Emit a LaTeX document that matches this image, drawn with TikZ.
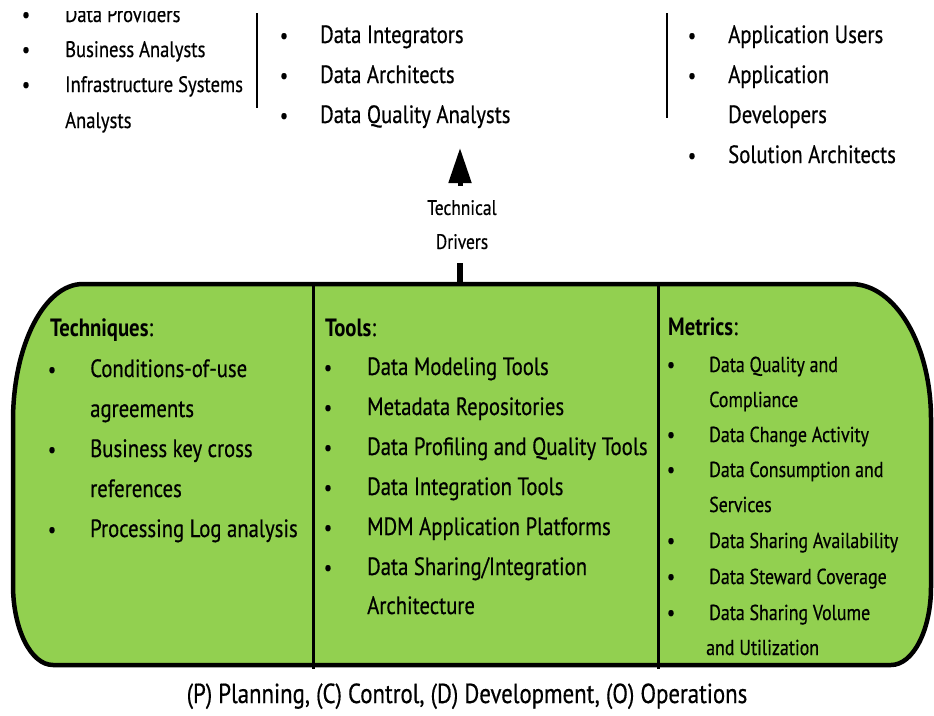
\documentclass[tikz,border=0pt]{standalone}
\usepackage{fontspec}
\setmainfont[FakeStretch=0.83,UprightFeatures={FakeBold=0.5}]{PT Sans}
\usetikzlibrary{arrows.meta}
\definecolor{boxgreen}{RGB}{146,208,80}
\begin{document}
\begin{tikzpicture}[x=1pt,y=-1pt,
  every node/.style={inner sep=0pt},
  txt/.style={anchor=base west, font=\fontsize{25}{30}\selectfont},
  small/.style={anchor=base west, font=\fontsize{22.4}{26}\selectfont},
  metr/.style={anchor=base west, font=\fontsize{21.6}{26}\selectfont},
  bul/.style={anchor=base, font=\fontsize{22}{26}\selectfont},
  sep/.style={line width=2.6pt},
  divider/.style={line width=3pt}]
\clip (0,0) rectangle (934,715);
\fill[white] (0,0) rectangle (934,715);
% ---- top left group (cut off at the top)
\begin{scope}
\clip (0,11) rectangle (250,200);
\node[bul] (b1) at (26,22) {•};
\node[small] (t1) at (65,22) {Data Providers};
\node[bul] (b2) at (26,57) {•};
\node[small] (t2) at (65,57) {Business Analysts};
\node[bul] (b3) at (26,92) {•};
\node[small] (t3) at (65,92) {Infrastructure Systems};
\node[small] (t4) at (65,128) {Analysts};
\end{scope}
\coordinate (s1a) at (257,13);
\coordinate (s1b) at (257,108);
\draw[sep] (s1a) -- (s1b);
% ---- top middle group
\node[bul] (m1b) at (284,43) {•};
\node[txt] (m1) at (320,43) {Data Integrators};
\node[bul] (m2b) at (284,83) {•};
\node[txt] (m2) at (320,83) {Data Architects};
\node[bul] (m3b) at (284,123) {•};
\node[txt] (m3) at (320,123) {Data Quality Analysts};
\coordinate (s2a) at (667,13);
\coordinate (s2b) at (667,118);
\draw[sep] (s2a) -- (s2b);
% ---- top right group
\node[bul] (r1b) at (692,43) {•};
\node[txt] (r1) at (728,43) {Application Users};
\node[bul] (r2b) at (692,83) {•};
\node[txt] (r2) at (728,83) {Application};
\node[txt] (r3) at (728,123) {Developers};
\node[bul] (r4b) at (692,163) {•};
\node[txt] (r4) at (728,163) {Solution Architects};
% ---- green box
\draw[line width=4.5pt, fill=boxgreen, line join=round]
  (83,284) -- (851,284)
  .. controls (895.2,284) and (931,344.4) .. (931,419)
  -- (931,587)
  .. controls (931,630.1) and (913.1,665) .. (891,665)
  -- (53,665)
  .. controls (30.9,665) and (13,629.2) .. (13,585)
  -- (13,421)
  .. controls (13,345.3) and (44.3,284) .. (83,284) -- cycle;
\coordinate (d1a) at (313,284);
\coordinate (d1b) at (313,669);
\coordinate (d2a) at (658,284);
\coordinate (d2b) at (658,669);
\draw[divider] (d1a) -- (d1b);
\draw[divider] (d2a) -- (d2b);
% ---- arrow
\node[align=center, fill=white, font=\fontsize{21}{34}\selectfont,
      minimum height=77pt, text depth=0pt] (drv) at (462,224.5) {Technical\\Drivers};
\coordinate (boxtop) at (460,284);
\coordinate (tip) at (460,148);
\draw[line width=5.5pt] (boxtop) -- (boxtop |- drv.south);
\draw[line width=5pt, -{Triangle[length=35pt,width=22pt]}] (tip |- drv.north) -- (tip);
% ---- techniques
\node[txt] (th) at (50,336) {\textbf{Techniques}:};
\node[bul] at (52,377) {•};
\node[txt] (ta) at (90,377) {Conditions-of-use};
\node[txt] (tb) at (90,417) {agreements};
\node[bul] at (52,457) {•};
\node[txt] (tc) at (90,457) {Business key cross};
\node[txt] (td) at (90,497) {references};
\node[bul] at (52,537) {•};
\node[txt] (te) at (90,537) {Processing Log analysis};
% ---- tools
\node[txt] (oh) at (325,336) {\textbf{Tools}:};
\foreach \y/\t [count=\i] in {375/{Data Modeling Tools},415/{Metadata Repositories},455/{Data Profiling and Quality Tools},495/{Data Integration Tools},535/{MDM Application Platforms},575/{Data Sharing{/}Integration}}{
  \node[bul] at (328,\y) {•};
  \node[txt] (o\i) at (367,\y) {\t};
}
\node[txt] (o7) at (367,614) {Architecture};
% ---- metrics
\node[txt] (mh) at (668,335) {\textbf{Metrics}:};
\node[bul] at (671,372) {•};
\node[metr] (x1) at (709,372) {Data Quality and};
\node[metr] (x2) at (709,407) {Compliance};
\node[bul] at (671,442) {•};
\node[metr] (x3) at (709,442) {Data Change Activity};
\node[bul] at (671,477) {•};
\node[metr] (x4) at (709,477) {Data Consumption and};
\node[metr] (x5) at (709,512) {Services};
\node[bul] at (671,548) {•};
\node[metr] (x6) at (709,548) {Data Sharing Availability};
\node[bul] at (671,584) {•};
\node[metr] (x7) at (709,584) {Data Steward Coverage};
\node[bul] at (671,620) {•};
\node[metr] (x8) at (709,620) {Data Sharing Volume};
\node[metr] (x9) at (706,655) {and Utilization};
% ---- footer
\node[anchor=base, font=\fontsize{27.5}{32}\selectfont] (foot) at (467,703) {(P) Planning, (C) Control, (D) Development, (O) Operations};
\end{tikzpicture}
\end{document}
